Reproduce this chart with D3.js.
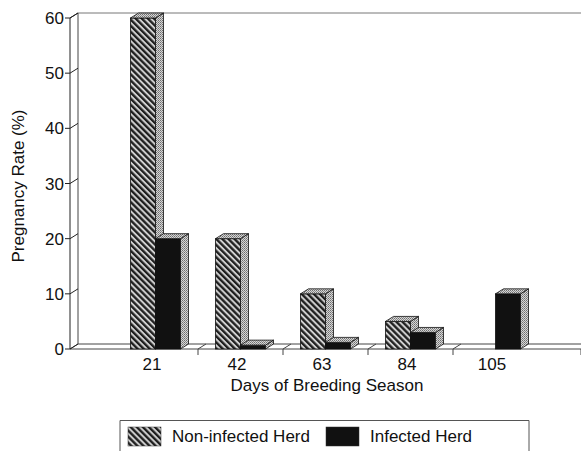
<!DOCTYPE html>
<html>
<head>
<meta charset="utf-8">
<script src="https://cdn.jsdelivr.net/npm/d3@7"></script>
<style>
  body { margin: 0; background: #fff; }
  text { font-family: "Liberation Sans", Arial, Helvetica, sans-serif; fill: #111; }
</style>
</head>
<body>
<div id="chart"></div>
<script>
var days = ["21", "42", "63", "84", "105"];
var series = ["Non-infected Herd", "Infected Herd"];
var non_infected = [60, 20, 10, 5, 0];
var infected = [20, 0.7, 1.2, 3, 10];
var y_ticks = [0, 10, 20, 30, 40, 50, 60];

function draw_chart() {
    var width = 581;
    var height = 451;
    var depth_x = 8;
    var depth_y = -5;

    var svg = d3.select("#chart")
        .append("svg")
        .attr("width", width)
        .attr("height", height);

    var defs = svg.append("defs");

    // diagonal hatch for the non-infected herd
    var hatch = defs.append("pattern")
        .attr("id", "hatch")
        .attr("patternUnits", "userSpaceOnUse")
        .attr("width", 4.3)
        .attr("height", 4.3)
        .attr("patternTransform", "rotate(-45)");
    hatch.append("rect").attr("width", 4.3).attr("height", 4.3).attr("fill", "#d0d0d0");
    hatch.append("rect").attr("width", 2.3).attr("height", 4.3).attr("fill", "#1e1e1e");

    // gray stipple for the side and top faces
    var stipple = defs.append("pattern")
        .attr("id", "stipple")
        .attr("patternUnits", "userSpaceOnUse")
        .attr("width", 2)
        .attr("height", 2);
    stipple.append("rect").attr("width", 2).attr("height", 2).attr("fill", "#d6d6d6");
    stipple.append("rect").attr("width", 1).attr("height", 1).attr("fill", "#6e6e6e");
    stipple.append("rect").attr("x", 1).attr("y", 1).attr("width", 1).attr("height", 1).attr("fill", "#8c8c8c");

    var y = d3.scaleLinear().domain([0, 60]).range([349, 18]);
    var x0 = d3.scaleBand().domain(days).range([113, 538])
        .paddingInner(35 / 85).paddingOuter(17.5 / 85);
    var x1 = d3.scaleBand().domain(series).range([0, x0.bandwidth()]);

    var left = 70;
    var right = 584;
    var base = y(0);
    var g = svg.append("g");
    var line_color = "#444";

    // back wall and floor
    g.append("path")
        .attr("d", "M" + (left + depth_x) + "," + (y(60) + depth_y) + "H" + right)
        .attr("stroke", "#777").attr("fill", "none");
    g.append("path")
        .attr("d", "M" + (left + depth_x) + "," + (y(60) + depth_y) + "V" + (base + depth_y) + "H" + right)
        .attr("stroke", line_color).attr("fill", "none");
    g.append("path")
        .attr("d", "M" + left + "," + base + "l" + depth_x + "," + depth_y)
        .attr("stroke", line_color).attr("fill", "none");
    g.append("path")
        .attr("d", "M" + left + "," + base + "H" + right)
        .attr("stroke", line_color).attr("fill", "none");

    // floor separators
    var seps = [];
    for (var i = 1; i < days.length; i++) seps.push(x0.range()[0] + x0.step() * i);
    seps.push(581);
    g.selectAll(".sep").data(seps).enter()
        .append("path")
        .attr("class", "sep")
        .attr("d", function(d) { return "M" + d + "," + (base + 6) + "V" + base + "l" + depth_x + "," + depth_y; })
        .attr("stroke", line_color).attr("fill", "none");

    // y axis with 3d ticks
    g.append("path")
        .attr("d", "M" + left + "," + base + "V" + y(60) + "l" + depth_x + "," + depth_y)
        .attr("stroke", "#222").attr("fill", "none");
    var ticks = g.selectAll(".tick").data(y_ticks).enter()
        .append("g").attr("class", "tick");
    ticks.append("path")
        .attr("d", function(d) { return "M" + (left - 5) + "," + y(d) + "H" + left + "l" + depth_x + "," + depth_y; })
        .attr("stroke", "#222").attr("fill", "none");
    ticks.append("text")
        .attr("x", left - 6)
        .attr("y", function(d) { return y(d); })
        .attr("dy", "0.36em")
        .attr("text-anchor", "end")
        .attr("font-size", 17)
        .text(function(d) { return d; });

    // bars
    var rows = days.map(function(d, i) {
        return [{ day: d, key: series[0], value: non_infected[i], fill: "url(#hatch)" },
                { day: d, key: series[1], value: infected[i], fill: "#111" }];
    });
    var bars = [];
    rows.forEach(function(r) { r.forEach(function(b) { if (b.value > 0) bars.push(b); }); });

    var bar = g.selectAll(".bar").data(bars).enter()
        .append("g").attr("class", "bar");

    function bx(d) { return x0(d.day) + x1(d.key); }
    var bw = x1.bandwidth();

    bar.append("rect")
        .attr("x", bx)
        .attr("y", function(d) { return y(d.value); })
        .attr("width", bw)
        .attr("height", function(d) { return base - y(d.value); })
        .attr("fill", function(d) { return d.fill; })
        .attr("stroke", "#111").attr("stroke-width", 0.8);
    bar.append("path")
        .attr("d", function(d) {
            var x = bx(d) + bw, t = y(d.value);
            return "M" + x + "," + t + "l" + depth_x + "," + depth_y + "V" + (base + depth_y) + "L" + x + "," + base + "Z";
        })
        .attr("fill", "url(#stipple)")
        .attr("stroke", "#111").attr("stroke-width", 0.8);
    bar.append("path")
        .attr("d", function(d) {
            var x = bx(d), t = y(d.value);
            return "M" + x + "," + t + "l" + depth_x + "," + depth_y + "h" + bw + "l" + (-depth_x) + "," + (-depth_y) + "Z";
        })
        .attr("fill", "url(#stipple)")
        .attr("stroke", "#111").attr("stroke-width", 0.8);

    // x labels
    g.selectAll(".xlabel").data(days).enter()
        .append("text")
        .attr("class", "xlabel")
        .attr("x", function(d) { return x0(d) + x0.bandwidth() / 2 - 3.5; })
        .attr("y", 370)
        .attr("text-anchor", "middle")
        .attr("font-size", 17)
        .text(function(d) { return d; });

    // axis titles
    svg.append("text")
        .attr("x", 327)
        .attr("y", 391)
        .attr("text-anchor", "middle")
        .attr("font-size", 17)
        .text("Days of Breeding Season");
    svg.append("text")
        .attr("transform", "translate(24,186) rotate(-90)")
        .attr("text-anchor", "middle")
        .attr("font-size", 17)
        .text("Pregnancy Rate (%)");

    // legend
    var legend = svg.append("g");
    legend.append("path")
        .attr("d", "M120,455V420.5H529V455")
        .attr("stroke", "#555").attr("fill", "none");
    var items = [{ name: series[0], fill: "url(#hatch)", x: 128 },
                 { name: series[1], fill: "#111", x: 326 }];
    var item = legend.selectAll(".item").data(items).enter()
        .append("g").attr("class", "item");
    item.append("rect")
        .attr("x", function(d) { return d.x; })
        .attr("y", 427)
        .attr("width", 33)
        .attr("height", 19)
        .attr("fill", function(d) { return d.fill; })
        .attr("stroke", "#333").attr("stroke-width", 0.5);
    item.append("text")
        .attr("x", function(d) { return d.x + 44; })
        .attr("y", 441.5)
        .attr("font-size", 17)
        .text(function(d) { return d.name; });
}

draw_chart();
</script>
</body>
</html>
